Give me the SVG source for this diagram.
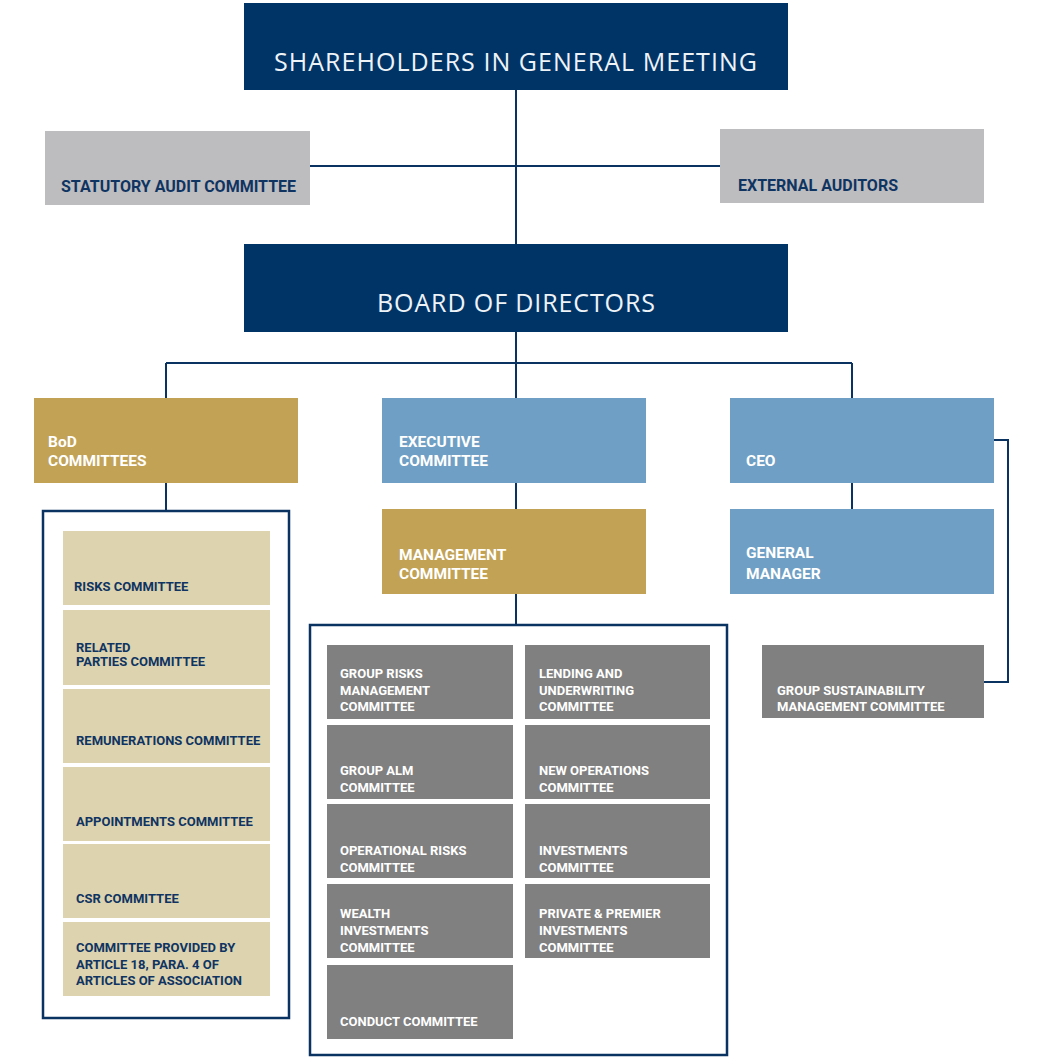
<svg xmlns="http://www.w3.org/2000/svg" width="1043" height="1064" viewBox="0 0 1043 1064">
<style>
.navy{fill:#003466}
.lg{fill:#BDBCBE}
.gold{fill:#C2A255}
.blue{fill:#6F9FC4}
.beige{fill:#DDD3AE}
.dg{fill:#808080}
.title{font-family:"Open Sans","Liberation Sans",sans-serif;font-size:25px;fill:#EEF3F8;font-weight:400}
.t16{font-family:Roboto,"Liberation Sans",sans-serif;font-weight:700;font-size:16px}
.t15{font-family:Roboto,"Liberation Sans",sans-serif;font-weight:700;font-size:15.5px}
.t13{font-family:Roboto,"Liberation Sans",sans-serif;font-weight:700;font-size:13px}
.w{fill:#FFFFFF}
.n{fill:#0F3462}
.ln{fill:none;stroke:#0B3362;stroke-width:2}
.frame{fill:none;stroke:#0B3362;stroke-width:2.5}
</style>
<rect width="1043" height="1064" fill="#FFFFFF"/>
<g id="connectors">
<path class="ln" d="M516 90V244M310 166H720M516 332V363M166 363H852M166 363V398M516 363V398M852 363V398M516 483V509M852 483V509M166 483V511M516 594V625M994 440H1008V682H984"/>
</g>
<g id="shareholders"><rect class="navy" x="244" y="3" width="544" height="87"/><text class="title" x="274" y="71" textLength="483" lengthAdjust="spacing">SHAREHOLDERS IN GENERAL MEETING</text></g>
<g id="statutory-audit"><rect class="lg" x="45" y="131" width="265" height="74"/><text class="t16 n" x="61" y="192">STATUTORY AUDIT COMMITTEE</text></g>
<g id="external-auditors"><rect class="lg" x="720" y="129" width="264" height="74"/><text class="t16 n" x="738" y="191">EXTERNAL AUDITORS</text></g>
<g id="board"><rect class="navy" x="244" y="244" width="544" height="88"/><text class="title" x="377" y="312" textLength="278" lengthAdjust="spacing">BOARD OF DIRECTORS</text></g>
<g id="bod-committees"><rect class="gold" x="34" y="398" width="264" height="85"/><text class="t15 w" x="48" y="447">BoD</text><text class="t15 w" x="48" y="466">COMMITTEES</text></g>
<g id="executive"><rect class="blue" x="382" y="398" width="264" height="85"/><text class="t15 w" x="399" y="447">EXECUTIVE</text><text class="t15 w" x="399" y="466">COMMITTEE</text></g>
<g id="ceo"><rect class="blue" x="730" y="398" width="264" height="85"/><text class="t15 w" x="746" y="466">CEO</text></g>
<g id="management"><rect class="gold" x="382" y="509" width="264" height="85"/><text class="t15 w" x="399" y="560">MANAGEMENT</text><text class="t15 w" x="399" y="579">COMMITTEE</text></g>
<g id="general-manager"><rect class="blue" x="730" y="509" width="264" height="85"/><text class="t15 w" x="746" y="558">GENERAL</text><text class="t15 w" x="746" y="579">MANAGER</text></g>
<g id="sustainability"><rect class="dg" x="762" y="645" width="222" height="73"/><text class="t13 w" x="777" y="695">GROUP SUSTAINABILITY</text><text class="t13 w" x="777" y="711">MANAGEMENT COMMITTEE</text></g>
<g id="bod-list">
<rect class="frame" x="43" y="511" width="246" height="507"/>
<g id="risks"><rect class="beige" x="63" y="531" width="207" height="74"/><text class="t13 n" x="74" y="591">RISKS COMMITTEE</text></g>
<g id="related"><rect class="beige" x="63" y="610" width="207" height="75"/><text class="t13 n" x="76" y="652">RELATED</text><text class="t13 n" x="76" y="666">PARTIES COMMITTEE</text></g>
<g id="remunerations"><rect class="beige" x="63" y="689" width="207" height="74"/><text class="t13 n" x="76" y="745">REMUNERATIONS COMMITTEE</text></g>
<g id="appointments"><rect class="beige" x="63" y="767" width="207" height="74"/><text class="t13 n" x="76" y="826">APPOINTMENTS COMMITTEE</text></g>
<g id="csr"><rect class="beige" x="63" y="844" width="207" height="74"/><text class="t13 n" x="76" y="903">CSR COMMITTEE</text></g>
<g id="art18"><rect class="beige" x="63" y="922" width="207" height="74"/><text class="t13 n" x="76" y="952">COMMITTEE PROVIDED BY</text><text class="t13 n" x="76" y="969">ARTICLE 18, PARA. 4 OF</text><text class="t13 n" x="76" y="985">ARTICLES OF ASSOCIATION</text></g>
</g>
<g id="mgmt-list">
<rect class="frame" x="310" y="625" width="417" height="430"/>
<g id="group-risks"><rect class="dg" x="327" y="645" width="186" height="74"/><text class="t13 w" x="340" y="678">GROUP RISKS</text><text class="t13 w" x="340" y="695">MANAGEMENT</text><text class="t13 w" x="340" y="711">COMMITTEE</text></g>
<g id="lending"><rect class="dg" x="525" y="645" width="185" height="74"/><text class="t13 w" x="539" y="678">LENDING AND</text><text class="t13 w" x="539" y="695">UNDERWRITING</text><text class="t13 w" x="539" y="711">COMMITTEE</text></g>
<g id="alm"><rect class="dg" x="327" y="725" width="186" height="74"/><text class="t13 w" x="340" y="775">GROUP ALM</text><text class="t13 w" x="340" y="792">COMMITTEE</text></g>
<g id="new-ops"><rect class="dg" x="525" y="725" width="185" height="74"/><text class="t13 w" x="539" y="775">NEW OPERATIONS</text><text class="t13 w" x="539" y="792">COMMITTEE</text></g>
<g id="op-risks"><rect class="dg" x="327" y="804" width="186" height="74"/><text class="t13 w" x="340" y="855">OPERATIONAL RISKS</text><text class="t13 w" x="340" y="872">COMMITTEE</text></g>
<g id="investments"><rect class="dg" x="525" y="804" width="185" height="74"/><text class="t13 w" x="539" y="855">INVESTMENTS</text><text class="t13 w" x="539" y="872">COMMITTEE</text></g>
<g id="wealth"><rect class="dg" x="327" y="884" width="186" height="74"/><text class="t13 w" x="340" y="918">WEALTH</text><text class="t13 w" x="340" y="935">INVESTMENTS</text><text class="t13 w" x="340" y="952">COMMITTEE</text></g>
<g id="private"><rect class="dg" x="525" y="884" width="185" height="74"/><text class="t13 w" x="539" y="918">PRIVATE &amp; PREMIER</text><text class="t13 w" x="539" y="935">INVESTMENTS</text><text class="t13 w" x="539" y="952">COMMITTEE</text></g>
<g id="conduct"><rect class="dg" x="327" y="965" width="186" height="74"/><text class="t13 w" x="340" y="1026">CONDUCT COMMITTEE</text></g>
</g>
</svg>
